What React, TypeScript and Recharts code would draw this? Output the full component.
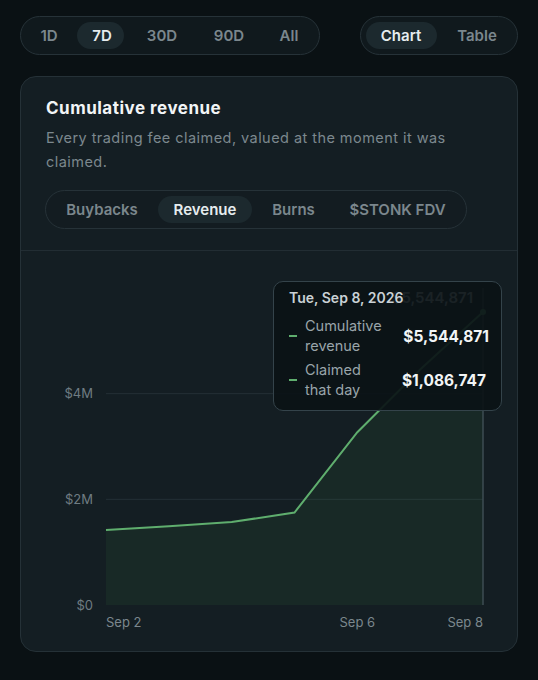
import React from "react";
import { AreaChart, Area, XAxis, YAxis, CartesianGrid, Tooltip, LabelList } from "recharts";

const dates = ["Sep 2", "Sep 3", "Sep 4", "Sep 5", "Sep 6", "Sep 7", "Sep 8"];
const fullDates = [
  "Wed, Sep 2, 2026",
  "Thu, Sep 3, 2026",
  "Fri, Sep 4, 2026",
  "Sat, Sep 5, 2026",
  "Sun, Sep 6, 2026",
  "Mon, Sep 7, 2026",
  "Tue, Sep 8, 2026",
];
const cumulative = [1420000, 1490000, 1570000, 1750000, 3270000, 4458124, 5544871];
const claimed = [58000, 70000, 80000, 180000, 1520000, 1188124, 1086747];
const xTicks = ["Sep 2", "Sep 6", "Sep 8"];
const yTicks = [0, 2000000, 4000000];
const yMax = 6000000;
const rangeOptions = ["1D", "7D", "30D", "90D", "All"];
const viewOptions = ["Chart", "Table"];
const metricTabs = ["Buybacks", "Revenue", "Burns", "$STONK FDV"];

const data = dates.map((d, i) => ({
  date: d,
  full: fullDates[i],
  cumulative: cumulative[i],
  claimed: claimed[i],
}));

const FONT = "Inter, 'Noto Sans', sans-serif";
const GREEN = "#5fae6e";

const fmtUsd = (v: number) => "$" + v.toLocaleString("en-US");

const XTick = (props: any) => {
  const { x, y, payload, index } = props;
  const n = xTicks.length;
  const anchor = index === 0 ? "start" : index === n - 1 ? "end" : "middle";
  return (
    <text x={x} y={y} dy="0.71em" textAnchor={anchor} fill="#7b878d" fontSize={13} fontFamily={FONT}>
      {payload.value}
    </text>
  );
};

const LastLabel = (props: any) => {
  const { x, y, index, value } = props;
  if (index !== data.length - 1) return null;
  return (
    <text x={x - 10} y={y - 14} dy="0.35em" textAnchor="end" fill="#c9d1d5" fontSize={15} fontWeight={600} fontFamily={FONT}>
      {fmtUsd(value)}
    </text>
  );
};

const TipContent = (props: any) => {
  const { payload } = props;
  if (!payload || !payload.length) return null;
  const p = payload[0].payload;
  const row = (l1: string, l2: string, v: number, mt: number, pr: number) => (
    <div style={{ display: "flex", alignItems: "center", marginTop: mt }}>
      <div style={{ width: 8, height: 2, background: GREEN, marginRight: 8, flex: "none" }} />
      <div style={{ width: 100, fontSize: 14.5, lineHeight: "20px", color: "#9aa5aa" }}>
        {l1}
        <br />
        {l2}
      </div>
      <div style={{ flex: 1, textAlign: "right", fontSize: 15.5, fontWeight: 700, color: "#f2f5f6", paddingRight: pr }}>
        {fmtUsd(v)}
      </div>
    </div>
  );
  return (
    <div
      style={{
        width: 229,
        height: 130,
        boxSizing: "border-box",
        border: "1px solid #34434a",
        borderRadius: 10,
        background: "rgba(11,18,22,0.92)",
        padding: "6px 12px 0 15px",
        fontFamily: FONT,
      }}
    >
      <div style={{ fontSize: 14, fontWeight: 600, lineHeight: "20px", color: "#c9d1d5" }}>{p.full}</div>
      {row("Cumulative", "revenue", p.cumulative, 8, 0)}
      {row("Claimed", "that day", p.claimed, 4, 3)}
    </div>
  );
};

const label = (text: string, cx: number, top: number, h: number, active: boolean) => (
  <div
    key={text}
    style={{
      position: "absolute",
      left: cx - 50,
      width: 100,
      top,
      height: h,
      lineHeight: h + "px",
      textAlign: "center",
      fontSize: 15,
      fontWeight: 600,
      color: active ? "#e6ecee" : "#7b878d",
    }}
  >
    {text}
  </div>
);

const pill = (left: number, top: number, w: number, h: number) => (
  <div
    style={{
      position: "absolute",
      left,
      top,
      width: w,
      height: h,
      borderRadius: h / 2,
      background: "#1c292e",
    }}
  />
);

const frame = (left: number, top: number, w: number, h: number, bg: string) => (
  <div
    style={{
      position: "absolute",
      left,
      top,
      width: w,
      height: h,
      boxSizing: "border-box",
      borderRadius: h / 2,
      border: "1px solid #263238",
      background: bg,
    }}
  />
);

export default function App() {
  const rangeCenters = [49, 102, 162, 229, 289];
  const viewCenters = [401, 477];
  const tabCenters = [102, 205, 293.5, 397.5];
  return (
    <div
      style={{
        position: "fixed",
        left: 0,
        top: 0,
        width: 538,
        height: 680,
        background: "#0a1114",
        fontFamily: FONT,
        overflow: "hidden",
      }}
    >
      {frame(20, 16, 300, 39, "#10191d")}
      {pill(77, 22, 47, 27)}
      {rangeOptions.map((t, i) => label(t, rangeCenters[i], 16, 39, i === 1))}

      {frame(360, 16, 158, 39, "#10191d")}
      {pill(366, 22, 71, 27)}
      {viewOptions.map((t, i) => label(t, viewCenters[i], 16, 39, i === 0))}

      <div
        style={{
          position: "absolute",
          left: 20,
          top: 76,
          width: 498,
          height: 576,
          boxSizing: "border-box",
          border: "1px solid #253137",
          borderRadius: 16,
          background: "#141e23",
        }}
      />
      <div
        style={{
          position: "absolute",
          left: 46,
          top: 97,
          fontSize: 17,
          fontWeight: 700,
          lineHeight: "22px",
          letterSpacing: 0.5,
          color: "#f2f5f6",
        }}
      >
        Cumulative revenue
      </div>
      <div
        style={{
          position: "absolute",
          left: 46,
          top: 126,
          width: 470,
          fontSize: 14.5,
          lineHeight: "24px",
          letterSpacing: 0.45,
          color: "#7c888e",
        }}
      >
        Every trading fee claimed, valued at the moment it was
        <br />
        claimed.
      </div>

      {frame(45, 190, 422, 39, "#131c21")}
      {pill(158, 196, 94, 27)}
      {metricTabs.map((t, i) => label(t, tabCenters[i], 190, 39, i === 1))}

      <div style={{ position: "absolute", left: 21, top: 250, width: 496, height: 1, background: "#222d33" }} />

      <div style={{ position: "absolute", left: 20, top: 250 }}>
        <AreaChart width={498} height={400} data={data} margin={{ top: 38, right: 35, left: 0, bottom: 15 }}>
          <CartesianGrid
            vertical={false}
            stroke="#243036"
            horizontalValues={[2000000, 4000000]}
          />
          <XAxis
            dataKey="date"
            ticks={xTicks}
            interval={0}
            axisLine={false}
            tickLine={false}
            tickSize={0}
            tickMargin={13}
            height={30}
            tick={<XTick />}
          />
          <YAxis
            width={86}
            domain={[0, yMax]}
            ticks={yTicks}
            axisLine={false}
            tickLine={false}
            tickSize={0}
            tickMargin={13}
            tick={{ fill: "#6f7c82", fontSize: 13, fontFamily: FONT }}
            tickFormatter={(v: number) => (v === 0 ? "$0" : "$" + v / 1000000 + "M")}
          />
          <Tooltip
            defaultIndex={6}
            active={true}
            position={{ x: 253, y: 31 }}
            cursor={{ stroke: "#3d4c53", strokeWidth: 1.5 }}
            content={<TipContent />}
            isAnimationActive={false}
            wrapperStyle={{ outline: "none" }}
          />
          <Area
            type="linear"
            dataKey="cumulative"
            stroke={GREEN}
            strokeWidth={2}
            fill="#4caf50"
            fillOpacity={0.08}
            dot={false}
            activeDot={{ r: 3, fill: GREEN, stroke: "none" }}
            isAnimationActive={false}
          >
            <LabelList dataKey="cumulative" content={<LastLabel />} />
          </Area>
        </AreaChart>
      </div>
    </div>
  );
}
